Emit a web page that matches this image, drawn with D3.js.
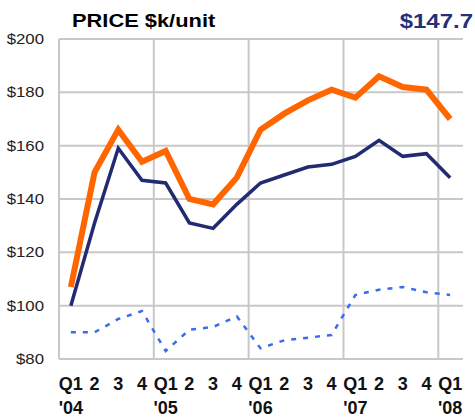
<!DOCTYPE html>
<html>
<head>
<meta charset="utf-8">
<script src="https://cdn.jsdelivr.net/npm/d3@7"></script>
<style>
  body { margin: 0; background: #fff; }
  text { font-family: "Liberation Sans", Arial, sans-serif; }
</style>
</head>
<body>
<script>
const quarters = ["Q1","2","3","4","Q1","2","3","4","Q1","2","3","4","Q1","2","3","4","Q1"];
const years = ["'04","","","","'05","","","","'06","","","","'07","","","","'08"];
const orangeSeries = [107,150,166,154,158,140,138,148,166,172,177,181,178,186,182,181,170];
const navySeries = [100,131,159,147,146,131,129,138,146,149,152,153,156,162,156,157,148];
const dashedSeries = [90,90,95,98,83,91,92,96,84,87,88,89,104,106,107,105,104];
const yTicks = [80,100,120,140,160,180,200];
const latest = "$147.7";

const width = 475, height = 419;
const plotLeft = 59, plotRight = 463, plotTop = 39, plotBottom = 359;

const svg = d3.select("body").append("svg")
  .attr("width", width)
  .attr("height", height);

const x = d3.scaleBand()
  .domain(d3.range(quarters.length))
  .range([plotLeft, 462]);
const cx = (i) => x(i) + x.bandwidth() / 2;

const y = d3.scaleLinear().domain([80, 200]).range([plotBottom, plotTop]);

// grid
svg.append("g")
  .selectAll("line")
  .data(yTicks)
  .enter()
  .append("line")
  .attr("x1", plotLeft)
  .attr("x2", plotRight)
  .attr("y1", (d) => y(d))
  .attr("y2", (d) => y(d))
  .attr("stroke", "#c8c8c8")
  .attr("stroke-width", 2);

svg.append("g")
  .selectAll("line")
  .data(d3.range(0, quarters.length, 4))
  .enter()
  .append("line")
  .attr("x1", (d) => x(d))
  .attr("x2", (d) => x(d))
  .attr("y1", plotTop)
  .attr("y2", plotBottom)
  .attr("stroke", "#c8c8c8")
  .attr("stroke-width", 2);

// y labels
svg.append("g")
  .selectAll("text")
  .data(yTicks)
  .enter()
  .append("text")
  .attr("transform", (d) => `translate(44,${y(d) + 5}) scale(1.12,1)`)
  .attr("text-anchor", "end")
  .attr("font-size", 15)
  .attr("fill", "#222")
  .text((d) => "$" + d);

// x labels
svg.append("g")
  .selectAll("text")
  .data(quarters)
  .enter()
  .append("text")
  .attr("x", (d, i) => cx(i))
  .attr("y", 390)
  .attr("text-anchor", "middle")
  .attr("font-size", 18)
  .attr("font-weight", "bold")
  .attr("fill", "#111")
  .text((d) => d);

svg.append("g")
  .selectAll("text")
  .data(years)
  .enter()
  .append("text")
  .attr("x", (d, i) => cx(i))
  .attr("y", 414)
  .attr("text-anchor", "middle")
  .attr("font-size", 18)
  .attr("font-weight", "bold")
  .attr("fill", "#111")
  .text((d) => d);

const line = d3.line()
  .x((d, i) => cx(i))
  .y((d) => y(d));

svg.append("path")
  .datum(dashedSeries)
  .attr("d", line)
  .attr("fill", "none")
  .attr("stroke", "#3a6cf2")
  .attr("stroke-width", 2.5)
  .attr("stroke-dasharray", "5,7");

svg.append("path")
  .datum(navySeries)
  .attr("d", line)
  .attr("fill", "none")
  .attr("stroke", "#222a72")
  .attr("stroke-width", 3.5);

svg.append("path")
  .datum(orangeSeries)
  .attr("d", line)
  .attr("fill", "none")
  .attr("stroke", "#ff6600")
  .attr("stroke-width", 6);

// title + latest value
svg.append("text")
  .attr("transform", "translate(72,27) scale(1.15,1)")
  .attr("font-size", 19)
  .attr("font-weight", "bold")
  .attr("fill", "#000")
  .text("PRICE $k/unit");

svg.append("text")
  .attr("transform", "translate(473,28) scale(1.2,1)")
  .attr("text-anchor", "end")
  .attr("font-size", 20)
  .attr("font-weight", "bold")
  .attr("fill", "#25307a")
  .text(latest);
</script>
</body>
</html>
